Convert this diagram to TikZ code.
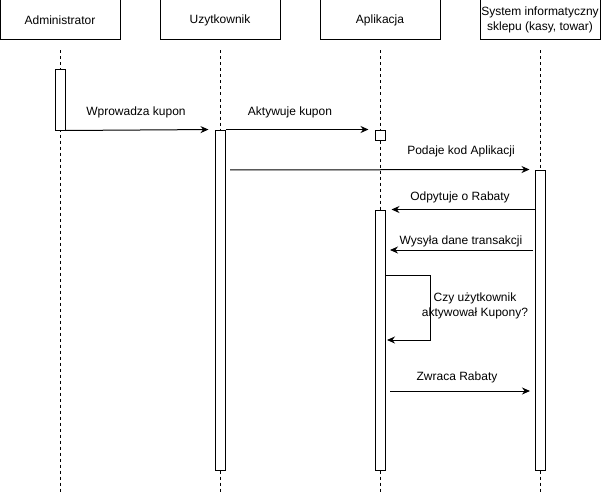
\documentclass[tikz,border=0pt]{standalone}
\usepackage{fontspec}
\setmainfont{Liberation Sans}
\usetikzlibrary{arrows.meta}

\tikzset{
  actor/.style={draw, line width=1pt, minimum width=120pt, minimum height=40pt, inner sep=1pt, align=center},
  act/.style={draw, fill=white, line width=1pt, minimum width=10pt, inner sep=0pt},
  life/.style={line width=1pt, dash pattern=on 3pt off 3pt},
  msg/.style={->, line width=1pt},
  lbl/.style={inner sep=0pt, align=center},
}

\begin{document}
\begin{tikzpicture}[x=1pt, y=-1pt, >={Stealth[length=8pt,width=7pt]}, font=\fontsize{12}{15}\selectfont]
  \useasboundingbox (0,0) rectangle (601,492);
  \node[actor] (admin) at (60,20) {Administrator};
  \node[actor] (user) at (220,20) {Uzytkownik};
  \node[actor] (app) at (380,20) {Aplikacja};
  \node[actor] (sys) at (540,20) {System informatyczny\\sklepu (kasy, towar)};
  \foreach \n in {admin, user, app, sys}
    \draw[life] ([yshift=-10pt]\n.south) -- ++(0,442);
  \node[act, minimum height=60pt] (admin-a) at (60,100) {};
  \node[act, minimum height=340pt] (user-a) at (220,300) {};
  \node[act, minimum height=10pt] (app-b) at (380,135) {};
  \node[act, minimum height=300pt] (sys-a) at (540,320) {};
  \node[act, minimum height=260pt] (app-a) at (380,340) {};
%   message ends
  \coordinate (p1) at (225,170);
  \coordinate (w1) at (535,250);
  \coordinate (w2) at (385,250);
  \coordinate (c1) at (385,275);
  \coordinate (c2) at (385,340);
  \coordinate (z1) at (385,391);
  \coordinate (z2) at (535,391);
  \draw[msg, shorten >=6pt] (admin-a.south east) -- (user-a.north west);
  \draw[msg, shorten >=6pt] (user-a.north east) -- (app-b.north west);
  \draw[msg, shorten <=5pt, shorten >=5pt] (p1) -- (sys-a.north west);
  \draw[msg, shorten >=6pt] (sys-a.north west |- app-a.north) -- (app-a.north east);
  \draw[msg, shorten <=2pt, shorten >=5pt] (w1) -- (w2);
  \draw[msg, shorten >=2pt] (c1) -- ++(45,0) |- (c2);
  \draw[msg, shorten <=5pt, shorten >=5pt] (z1) -- (z2);
  \node[lbl] (l1) at (136,112) {Wprowadza kupon};
  \node[lbl] (l2) at (290,112) {Aktywuje kupon};
  \node[lbl] (l3) at (461,151) {Podaje kod Aplikacji};
  \node[lbl] (l4) at (460,197) {Odpytuje o Rabaty};
  \node[lbl] (l5) at (461,241) {Wysyła dane transakcji};
  \node[lbl] (l6) at (475,306) {Czy użytkownik\\aktywował Kupony?};
  \node[lbl] (l7) at (457,377) {Zwraca Rabaty};
\end{tikzpicture}
\end{document}
